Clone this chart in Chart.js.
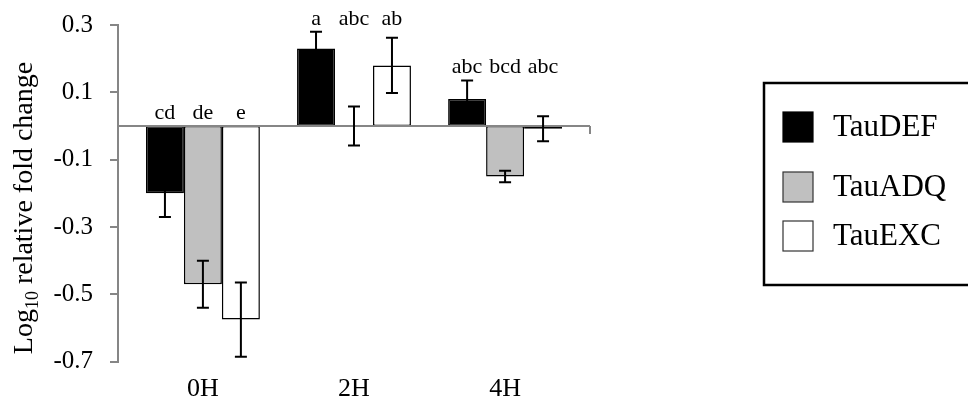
<!DOCTYPE html>
<html>
<head>
<meta charset="utf-8">
<script src="https://cdn.jsdelivr.net/npm/chart.js@4/dist/chart.umd.min.js"></script>
<style>
  html, body { margin: 0; padding: 0; background: #fff; }
  #wrap { width: 968px; height: 400px; position: relative; }
</style>
</head>
<body>
<div id="wrap"><canvas id="c" width="968" height="400"></canvas></div>
<script>
// Sampling times
const timePoints = ['0H', '2H', '4H'];

// Log10 relative fold change per diet group
const seriesNames = ['TauDEF', 'TauADQ', 'TauEXC'];
const tauDEF = [-0.20, 0.23, 0.08];
const tauADQ = [-0.47, 0.00, -0.15];
const tauEXC = [-0.575, 0.18, -0.008];

// Standard errors
const tauDEFErr = [0.07, 0.05, 0.055];
const tauADQErr = [0.07, 0.058, 0.017];
const tauEXCErr = [0.11, 0.082, 0.037];

// Significance letters
const tauDEFSig = ['cd', 'a', 'abc'];
const tauADQSig = ['de', 'abc', 'bcd'];
const tauEXCSig = ['e', 'ab', 'abc'];

// Value axis
const yMin = -0.7;
const yMax = 0.3;
const yStep = 0.2;

const FONT = '"Liberation Serif", "Times New Roman", serif';
const AXIS_GREY = '#868686';

const errorSets = [tauDEFErr, tauADQErr, tauEXCErr];
const sigSets = [tauDEFSig, tauADQSig, tauEXCSig];

// Zero baseline across the plot plus its closing tick
const zeroLine = {
  id: 'zeroLine',
  afterDatasetsDraw(chart) {
    const { ctx, chartArea, scales } = chart;
    const y0 = scales.y.getPixelForValue(0);
    ctx.save();
    ctx.strokeStyle = AXIS_GREY;
    ctx.lineWidth = 2;
    ctx.beginPath();
    ctx.moveTo(chartArea.left, y0);
    ctx.lineTo(chartArea.right, y0);
    ctx.moveTo(chartArea.right, y0);
    ctx.lineTo(chartArea.right, y0 + 8);
    ctx.stroke();
    ctx.restore();
  }
};

// Error bars with caps, centred on each bar
const errorBars = {
  id: 'errorBars',
  afterDatasetsDraw(chart) {
    const { ctx, scales } = chart;
    ctx.save();
    ctx.strokeStyle = '#000';
    ctx.lineWidth = 2;
    chart.data.datasets.forEach((ds, di) => {
      const meta = chart.getDatasetMeta(di);
      meta.data.forEach((bar, i) => {
        const v = ds.data[i];
        const e = errorSets[di][i];
        const yT = scales.y.getPixelForValue(v + e);
        const yB = scales.y.getPixelForValue(v - e);
        const cap = 6;
        ctx.beginPath();
        ctx.moveTo(bar.x, yT);
        ctx.lineTo(bar.x, yB);
        ctx.moveTo(bar.x - cap, yT);
        ctx.lineTo(bar.x + cap, yT);
        ctx.moveTo(bar.x - cap, yB);
        ctx.lineTo(bar.x + cap, yB);
        ctx.stroke();
      });
    });
    ctx.restore();
  }
};

// Significance letters above each time group
const sigLetters = {
  id: 'sigLetters',
  afterDatasetsDraw(chart) {
    const { ctx, scales } = chart;
    ctx.save();
    ctx.fillStyle = '#000';
    ctx.font = '22px ' + FONT;
    ctx.textAlign = 'center';
    ctx.textBaseline = 'middle';
    timePoints.forEach((_, i) => {
      let top = 0;
      chart.data.datasets.forEach((ds, di) => {
        top = Math.max(top, ds.data[i] + errorSets[di][i]);
      });
      const y = scales.y.getPixelForValue(top) - 13;
      chart.data.datasets.forEach((ds, di) => {
        const bar = chart.getDatasetMeta(di).data[i];
        ctx.fillText(sigSets[di][i], bar.x, y);
      });
    });
    ctx.restore();
  }
};

// Rotated value-axis title with subscript
const axisTitle = {
  id: 'axisTitle',
  afterDraw(chart) {
    const { ctx } = chart;
    const size = 28;
    const subSize = 18;
    const parts = [
      { t: 'Log', s: size, dy: 0 },
      { t: '10', s: subSize, dy: 6 },
      { t: ' relative fold change', s: size, dy: 0 }
    ];
    ctx.save();
    ctx.fillStyle = '#000';
    ctx.textBaseline = 'alphabetic';
    ctx.textAlign = 'left';
    let total = 0;
    parts.forEach(p => { ctx.font = p.s + 'px ' + FONT; p.w = ctx.measureText(p.t).width; total += p.w; });
    ctx.translate(32, 208);
    ctx.rotate(-Math.PI / 2);
    let x = -total / 2;
    parts.forEach(p => {
      ctx.font = p.s + 'px ' + FONT;
      ctx.fillText(p.t, x, p.dy);
      x += p.w;
    });
    ctx.restore();
  }
};

// Boxed legend on the right
const boxLegend = {
  id: 'boxLegend',
  afterDraw(chart) {
    const { ctx } = chart;
    const rows = [127, 187, 236];
    ctx.save();
    ctx.strokeStyle = '#000';
    ctx.lineWidth = 2.5;
    ctx.strokeRect(764, 83, 260, 202);
    ctx.font = '31px ' + FONT;
    ctx.textBaseline = 'middle';
    ctx.textAlign = 'left';
    chart.data.datasets.forEach((ds, di) => {
      const cy = rows[di];
      ctx.fillStyle = ds.backgroundColor;
      ctx.fillRect(783, cy - 15, 30, 30);
      ctx.lineWidth = 1.2;
      ctx.strokeStyle = di === 0 ? '#000' : '#333';
      ctx.strokeRect(783, cy - 15, 30, 30);
      ctx.fillStyle = '#000';
      ctx.fillText(ds.label, 833, cy + 1);
    });
    ctx.restore();
  }
};

new Chart(document.getElementById('c'), {
  type: 'bar',
  data: {
    labels: timePoints,
    datasets: [
      { label: seriesNames[0], data: tauDEF, backgroundColor: '#000000' },
      { label: seriesNames[1], data: tauADQ, backgroundColor: '#c0c0c0' },
      { label: seriesNames[2], data: tauEXC, backgroundColor: '#ffffff' }
    ].map(d => Object.assign(d, {
      borderColor: '#000',
      borderWidth: 1.5,
      borderSkipped: false,
      categoryPercentage: 0.754,
      barPercentage: 1.0
    }))
  },
  options: {
    responsive: false,
    devicePixelRatio: 1,
    animation: false,
    layout: { padding: { top: 25, right: 378, left: 0, bottom: 0 } },
    plugins: { legend: { display: false }, tooltip: { enabled: false } },
    scales: {
      x: {
        grid: { display: false, drawTicks: false },
        border: { display: false },
        ticks: { color: '#000', font: { family: FONT, size: 26 }, padding: 12 },
        // groups sit slightly inside the axis ends
        afterBuildTicks(s) { s._startValue = -0.562; s._valueRange = 3.124; },
        afterFit(s) { s.height = 38.3; s.paddingLeft = 0; s.paddingRight = 0; }
      },
      y: {
        min: yMin,
        max: yMax,
        grid: { drawOnChartArea: false, drawTicks: true, tickLength: 8, color: AXIS_GREY, lineWidth: 2 },
        border: { color: AXIS_GREY, width: 2 },
        ticks: {
          stepSize: yStep,
          color: '#000',
          padding: 17,
          font: { family: FONT, size: 25 },
          callback: v => Number(v).toFixed(1)
        },
        afterFit(s) { s.width = 118; s.paddingTop = 0; s.paddingBottom = 0; }
      }
    }
  },
  plugins: [zeroLine, errorBars, sigLetters, axisTitle, boxLegend]
});
</script>
</body>
</html>
